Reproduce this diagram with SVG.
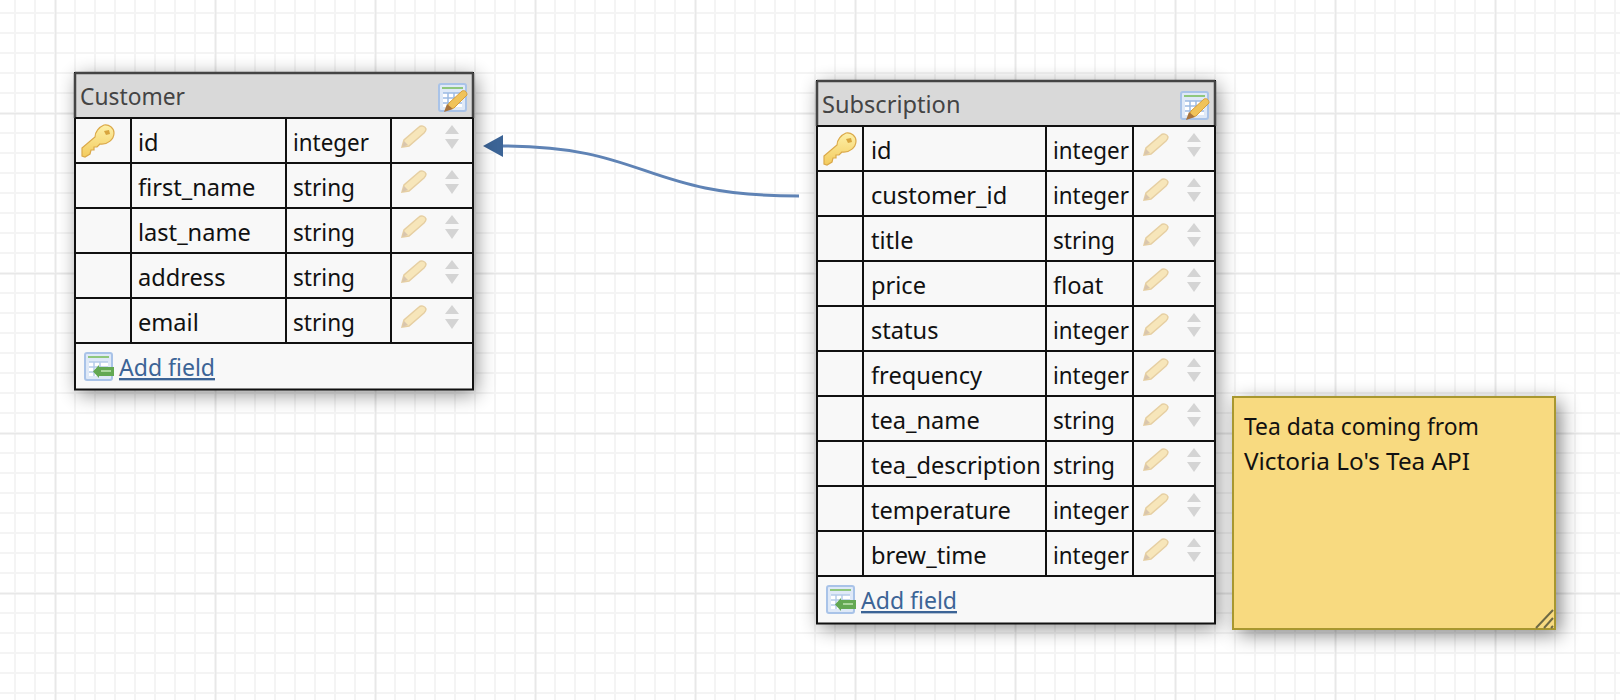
<svg xmlns="http://www.w3.org/2000/svg" width="1620" height="700" viewBox="0 0 1620 700">
<style>
text{font-family:"Noto Sans","Open Sans","Liberation Sans",sans-serif;font-size:23.6px;fill:#111}
.title{fill:#444}
.link{fill:#3c6496;text-decoration:underline}
.tbl{fill:#f8f8f8;stroke:#111;stroke-width:2}
.head{fill:#d9d9d9}
.top{fill:none;stroke:#444;stroke-width:2.500}
.grid{stroke:#111;stroke-width:2;fill:none}
</style>
<defs>
<pattern id="minor" width="20" height="20" patternUnits="userSpaceOnUse" x="5" y="3"><path d="M10 0V20M0 10H20" stroke="#f4f4f4" stroke-width="2" fill="none"/></pattern>
<pattern id="major" width="160" height="160" patternUnits="userSpaceOnUse" x="55" y="113"><path d="M0 0V160M0 0H160" stroke="#e8e8e8" stroke-width="3" fill="none"/></pattern>
<filter id="shadow" x="-15%" y="-15%" width="130%" height="130%"><feGaussianBlur stdDeviation="10"/></filter>
<linearGradient id="keyg" x1="0" y1="0" x2="0" y2="1"><stop offset="0" stop-color="#fdf0a8"/><stop offset="1" stop-color="#f3cb5e"/></linearGradient>
<symbol id="key" viewBox="0 0 32 32" width="32" height="32" overflow="visible">
<path d="M0 23 L13 12 C13 7 17 2 22 0 C27 -1 32 3 32 8 C32 14 26 20 18 19 L15 22 L12 22 L12 25 L9 25 L8 29 L3 32 L0 31 Z" fill="url(#keyg)" stroke="#dba94a" stroke-width="1.200"/>
<path d="M22 6 L27 5 L28 9 L24 10 Z" fill="#d8a53e"/>
</symbol>
<symbol id="pencil" viewBox="0 0 26 24" width="26" height="24" overflow="visible">
<path d="M1 22 L3 15 L18 2 C20 0 24 1 25 4 C25 6 24 7 23 8 L8 21 Z" fill="#f7e6ba" stroke="#e6cfa2" stroke-width="1.500"/>
<path d="M1 22 L3 16 L7 20 Z" fill="#d9c6ad"/>
</symbol>
<symbol id="updown" viewBox="0 0 16 24" width="16" height="24" overflow="visible">
<path d="M8 0 L15 9 H1 Z M1 14 H15 L8 24 Z" fill="#d4d4d4"/>
</symbol>
<symbol id="tedit" viewBox="0 0 30 30" width="30" height="30" overflow="visible">
<rect x="1" y="1" width="27" height="27" rx="2" fill="#dfe9f7" stroke="#a9c3e8" stroke-width="2"/>
<rect x="4" y="4" width="21" height="2" fill="#8fc77d"/>
<path d="M5 10H24V24H5Z" fill="#fff"/>
<path d="M5 10H24M5 15H24M5 20H24M10 10V24M16 10V24" stroke="#9dbbe3" stroke-width="1.500"/>
<path d="M8 27 L11 20 L24 8 C26 7 29 8 29 12 L16 25 Z" fill="#f0c35a" stroke="#d89f3a" stroke-width="1"/>
<path d="M6 29 L9 21 L15 26 Z" fill="#a9743c"/>
</symbol>
<symbol id="tadd" viewBox="0 0 30 30" width="30" height="30" overflow="visible">
<rect x="1" y="1" width="27" height="27" rx="2" fill="#dfe9f7" stroke="#a9c3e8" stroke-width="2"/>
<rect x="4" y="4" width="21" height="2" fill="#8fc77d"/>
<path d="M5 10H24V24H5Z" fill="#fff"/>
<path d="M5 10H24M5 15H24M5 20H24M10 10V24M16 10V24" stroke="#b5cbe9" stroke-width="1.500"/>
<path d="M15 15 H30 V24 H15 L15 26 L9 19.500 L15 13 Z" fill="#63a852"/>
<path d="M17 18 H27 V20 H17Z" fill="#a9d69b"/>
</symbol>
</defs>
<g id="background">
<rect width="1620" height="700" fill="#fff"/>
<rect width="1620" height="700" fill="url(#minor)"/>
<rect width="1620" height="700" fill="url(#major)"/>
</g>
<g id="connectors">
<path d="M799 196 C640 196 650 146 500 146" fill="none" stroke="#5f83b5" stroke-width="3"/>
<path d="M483 146 L503 135 V157 Z" fill="#3c6496"/>
</g>
<g id="customer">
<rect x="78" y="77" width="398" height="317" fill="#000" opacity=".45" filter="url(#shadow)"/>
<rect class="tbl" x="75" y="73" width="398" height="316.500"/>
<rect class="head" x="76" y="74" width="396" height="44"/>
<path d="M75 73H473M75 73V118M473 73V118" class="top"/>
<path class="grid" d="M75 118H473M75 163H473M75 208H473M75 253H473M75 298H473M75 343H473M131 118V343M286 118V343M391 118V343"/>
<text class="title" x="80" y="105" textLength="105" lengthAdjust="spacingAndGlyphs">Customer</text>
<use href="#tedit" x="438" y="83"/>
<use href="#key" x="82" y="125"/>
<text x="138" y="151">id</text><text x="293" y="151" textLength="76" lengthAdjust="spacingAndGlyphs">integer</text>
<text x="138" y="196">first_name</text><text x="293" y="196" textLength="62" lengthAdjust="spacingAndGlyphs">string</text>
<text x="138" y="241">last_name</text><text x="293" y="241" textLength="62" lengthAdjust="spacingAndGlyphs">string</text>
<text x="138" y="286">address</text><text x="293" y="286" textLength="62" lengthAdjust="spacingAndGlyphs">string</text>
<text x="138" y="331">email</text><text x="293" y="331" textLength="62" lengthAdjust="spacingAndGlyphs">string</text>
<use href="#pencil" x="401" y="125"/><use href="#updown" x="444" y="125"/>
<use href="#pencil" x="401" y="170"/><use href="#updown" x="444" y="170"/>
<use href="#pencil" x="401" y="215"/><use href="#updown" x="444" y="215"/>
<use href="#pencil" x="401" y="260"/><use href="#updown" x="444" y="260"/>
<use href="#pencil" x="401" y="305"/><use href="#updown" x="444" y="305"/>
<use href="#tadd" x="84" y="352"/>
<text class="link" x="119" y="376" textLength="96" lengthAdjust="spacingAndGlyphs">Add field</text>
</g>
<g id="subscription">
<rect x="820" y="85" width="398" height="543" fill="#000" opacity=".45" filter="url(#shadow)"/>
<rect class="tbl" x="817" y="81" width="398" height="542.500"/>
<rect class="head" x="818" y="82" width="396" height="44"/>
<path d="M817 81H1215M817 81V126M1215 81V126" class="top"/>
<path class="grid" d="M817 126H1215M817 171H1215M817 216H1215M817 261H1215M817 306H1215M817 351H1215M817 396H1215M817 441H1215M817 486H1215M817 531H1215M817 576H1215M863 126V576M1046 126V576M1133 126V576"/>
<text class="title" x="822" y="113">Subscription</text>
<use href="#tedit" x="1180" y="91"/>
<use href="#key" x="824" y="133"/>
<text x="871" y="159">id</text><text x="1053" y="159" textLength="76" lengthAdjust="spacingAndGlyphs">integer</text>
<text x="871" y="204">customer_id</text><text x="1053" y="204" textLength="76" lengthAdjust="spacingAndGlyphs">integer</text>
<text x="871" y="249">title</text><text x="1053" y="249" textLength="62" lengthAdjust="spacingAndGlyphs">string</text>
<text x="871" y="294">price</text><text x="1053" y="294">float</text>
<text x="871" y="339">status</text><text x="1053" y="339" textLength="76" lengthAdjust="spacingAndGlyphs">integer</text>
<text x="871" y="384">frequency</text><text x="1053" y="384" textLength="76" lengthAdjust="spacingAndGlyphs">integer</text>
<text x="871" y="429">tea_name</text><text x="1053" y="429" textLength="62" lengthAdjust="spacingAndGlyphs">string</text>
<text x="871" y="474">tea_description</text><text x="1053" y="474" textLength="62" lengthAdjust="spacingAndGlyphs">string</text>
<text x="871" y="519">temperature</text><text x="1053" y="519" textLength="76" lengthAdjust="spacingAndGlyphs">integer</text>
<text x="871" y="564">brew_time</text><text x="1053" y="564" textLength="76" lengthAdjust="spacingAndGlyphs">integer</text>
<use href="#pencil" x="1143" y="133"/><use href="#updown" x="1186" y="133"/>
<use href="#pencil" x="1143" y="178"/><use href="#updown" x="1186" y="178"/>
<use href="#pencil" x="1143" y="223"/><use href="#updown" x="1186" y="223"/>
<use href="#pencil" x="1143" y="268"/><use href="#updown" x="1186" y="268"/>
<use href="#pencil" x="1143" y="313"/><use href="#updown" x="1186" y="313"/>
<use href="#pencil" x="1143" y="358"/><use href="#updown" x="1186" y="358"/>
<use href="#pencil" x="1143" y="403"/><use href="#updown" x="1186" y="403"/>
<use href="#pencil" x="1143" y="448"/><use href="#updown" x="1186" y="448"/>
<use href="#pencil" x="1143" y="493"/><use href="#updown" x="1186" y="493"/>
<use href="#pencil" x="1143" y="538"/><use href="#updown" x="1186" y="538"/>
<use href="#tadd" x="826" y="585"/>
<text class="link" x="861" y="609" textLength="96" lengthAdjust="spacingAndGlyphs">Add field</text>
</g>
<g id="note">
<rect x="1238" y="402" width="322" height="232" fill="#000" opacity=".5" filter="url(#shadow)"/>
<rect x="1233" y="397" width="322" height="232" fill="#f8da80" stroke="#a8972f" stroke-width="2"/>
<path d="M1536 628 L1553 610 M1544 628 L1553 618 M1551 628 L1553 626" stroke="#6e6a45" stroke-width="2" fill="none"/>
<text x="1244" y="435" textLength="235" lengthAdjust="spacingAndGlyphs">Tea data coming from</text>
<text x="1244" y="470" textLength="226" lengthAdjust="spacingAndGlyphs">Victoria Lo's Tea API</text>
</g>
</svg>
